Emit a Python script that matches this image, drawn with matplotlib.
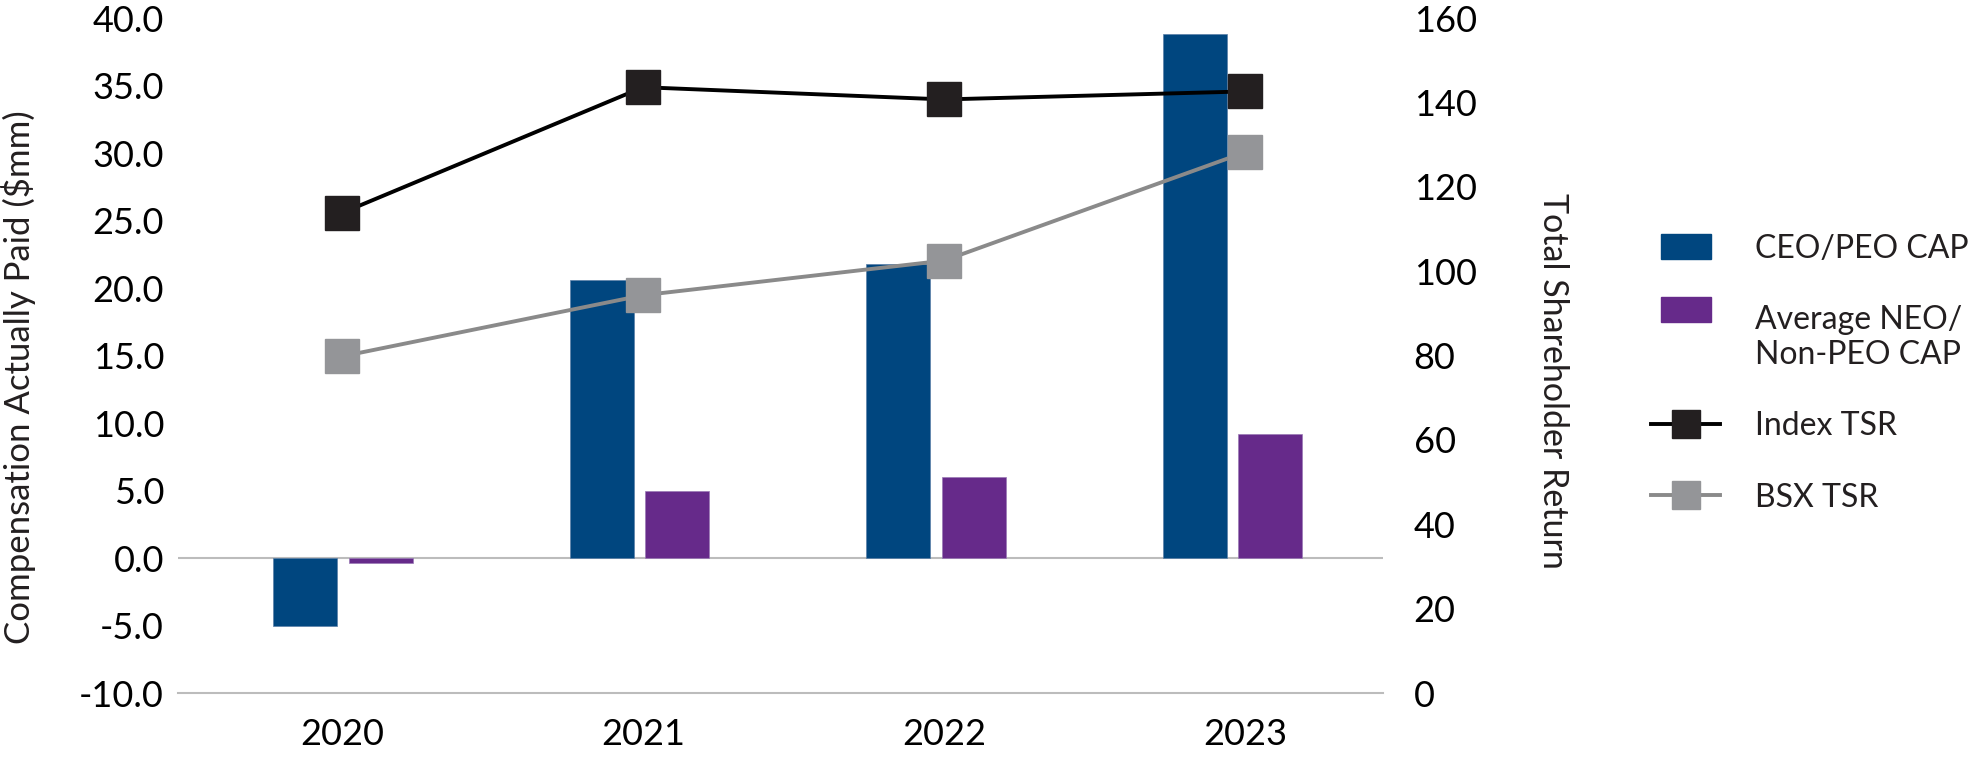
import numpy as np
import matplotlib.pyplot as plt
from matplotlib.patches import Patch, Rectangle
from matplotlib.lines import Line2D
from matplotlib.legend_handler import HandlerPatch

plt.rcParams['font.family'] = ['Lato', 'DejaVu Sans']
plt.rcParams['axes.unicode_minus'] = False

# data
years = ['2020', '2021', '2022', '2023']
ceo_cap = [-5.0, 20.6, 21.8, 38.8]      # $mm
neo_cap = [-0.4, 5.0, 6.0, 9.2]         # $mm
index_tsr = [113.8, 143.6, 140.7, 142.6]
bsx_tsr = [79.8, 94.3, 102.5, 128.2]

blue = '#00467f'
purple = '#662a8a'
dark = '#231f20'
grey_line = '#8a8a8a'
grey_mark = '#949598'
axis_grey = '#bcbcbc'

fig = plt.figure(figsize=(19.73, 7.57), dpi=100)
rect = [0.0902, 0.0845, 0.6108, 0.8917]

# bars (left axis)
ax = fig.add_axes(rect)
x = np.arange(len(years))
w = 0.216
off = 0.127
ax.bar(x - off, ceo_cap, w, color=blue, edgecolor='#5a7fa8', linewidth=0.5)
ax.bar(x + off, neo_cap, w, color=purple, edgecolor='#9a7ab5', linewidth=0.5)
ax.set_xlim(-0.556, 3.507)
ax.set_ylim(-10, 40)
ax.set_yticks(np.arange(-10, 41, 5))
ax.set_yticklabels(['%.1f' % v for v in np.arange(-10, 41, 5)])
ax.set_xticks([])
ax.axhline(0, color=axis_grey, lw=1.5, zorder=0.5)
for s in ['top', 'left', 'right']:
    ax.spines[s].set_visible(False)
ax.spines['bottom'].set_color(axis_grey)
ax.spines['bottom'].set_linewidth(1.5)
ax.tick_params(axis='y', length=0, pad=10, labelsize=26, labelcolor='black')

# TSR lines (right axis)
ax2 = fig.add_axes(rect, frameon=False)
ax2.plot(x, index_tsr, color='black', lw=2.8, marker='s', ms=24.5,
         mfc=dark, mec=dark)
ax2.plot(x, bsx_tsr, color=grey_line, lw=2.8, marker='s', ms=24.5,
         mfc=grey_mark, mec=grey_mark)
ax2.set_xlim(-0.545, 3.458)
ax2.set_ylim(0, 160)
ax2.set_yticks(np.arange(0, 161, 20))
ax2.set_xticks(x)
ax2.set_xticklabels(years)
ax2.yaxis.tick_right()
ax2.tick_params(axis='y', length=0, pad=22, labelsize=26, labelcolor='black',
                left=False, labelleft=False)
ax2.tick_params(axis='x', length=0, pad=18, labelsize=26, labelcolor='black')

fig.text(0.0096, 0.502, 'Compensation Actually Paid ($mm)', rotation=90,
         ha='center', va='center', fontsize=25, color=dark)
fig.text(0.787, 0.497, 'Total Shareholder Return', rotation=270,
         ha='center', va='center', fontsize=24.5, color=dark)


def small_box(legend, orig_handle, xdescent, ydescent, width, height, fontsize):
    return Rectangle((-xdescent + 0.136 * width, -ydescent), 0.727 * width, height)


def small_box_up(legend, orig_handle, xdescent, ydescent, width, height, fontsize):
    # two-line label: box sits next to the first line
    return Rectangle((-xdescent + 0.136 * width, -ydescent + 0.9 * fontsize),
                     0.727 * width, height)


ceo_h = Patch(facecolor=blue, edgecolor=blue)
neo_h = Patch(facecolor=purple, edgecolor=purple)
handles = [
    ceo_h,
    neo_h,
    Line2D([], [], color='black', lw=2.8, marker='s', ms=20, mfc=dark, mec=dark),
    Line2D([], [], color=grey_line, lw=2.8, marker='s', ms=20, mfc=grey_mark, mec=grey_mark),
]
labels = ['CEO/PEO CAP', 'Average NEO/\nNon-PEO CAP', 'Index TSR', 'BSX TSR']
leg = fig.legend(handles, labels, loc='center left', bbox_to_anchor=(0.837, 0.507),
                 frameon=False, fontsize=23, handlelength=2.15, handleheight=0.82,
                 handletextpad=1.08, labelspacing=1.3, borderpad=0, borderaxespad=0,
                 handler_map={neo_h: HandlerPatch(patch_func=small_box_up),
                              Patch: HandlerPatch(patch_func=small_box)})
for t in leg.get_texts():
    t.set_linespacing(1.2)
    t.set_color(dark)

fig.savefig('out.png', dpi=100)
